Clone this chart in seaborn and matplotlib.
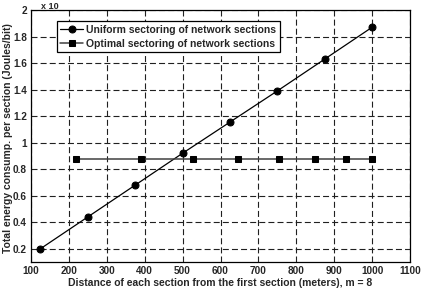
import matplotlib
matplotlib.use("Agg")
import matplotlib.pyplot as plt
import seaborn as sns
import pandas as pd
from matplotlib.ticker import FuncFormatter

uniform_x = [125, 250, 375, 500, 625, 750, 875, 1000]
uniform_y = [0.20, 0.44, 0.68, 0.92, 1.155, 1.39, 1.63, 1.87]
optimal_x = [220, 389, 528, 647, 755, 850, 930, 1000]
optimal_y = [0.874, 0.874, 0.874, 0.874, 0.874, 0.874, 0.874, 0.874]
uniform_label = "Uniform sectoring of network sections"
optimal_label = "Optimal sectoring of network sections"
x_ticks = [100, 200, 300, 400, 500, 600, 700, 800, 900, 1000, 1100]
y_ticks = [0.2, 0.4, 0.6, 0.8, 1.0, 1.2, 1.4, 1.6, 1.8, 2.0]

sns.set_style("ticks")
plt.rcParams['font.family'] = ['Liberation Sans', 'DejaVu Sans']
plt.rcParams['font.weight'] = 'bold'
plt.rcParams['font.size'] = 7

fig = plt.figure(figsize=(4.22, 2.90), dpi=100)
ax = fig.add_axes([0.0735, 0.0966, 0.8981, 0.8689])

df_u = pd.DataFrame({"x": uniform_x, "y": uniform_y})
df_o = pd.DataFrame({"x": optimal_x, "y": optimal_y})

sns.lineplot(data=df_u, x="x", y="y", ax=ax, color="black", linewidth=0.9,
             marker="o", markersize=5, markerfacecolor="black",
             markeredgecolor="black", label=uniform_label)
sns.lineplot(data=df_o, x="x", y="y", ax=ax, color="#404040", linewidth=1.1,
             marker="s", markersize=4.5, markerfacecolor="black",
             markeredgecolor="black", label=optimal_label)

ax.set_xlim(100, 1100)
ax.set_ylim(0.1, 2.0)
ax.set_xticks(x_ticks)
ax.set_yticks(y_ticks)
ax.yaxis.set_major_formatter(FuncFormatter(lambda v, p: "%g" % round(v, 2)))
ax.tick_params(direction="in", top=True, right=True, length=3, width=0.6,
               labelsize=7.2, pad=3)
for lab in ax.get_xticklabels() + ax.get_yticklabels():
    lab.set_fontweight("bold")
ax.grid(True, color="#202020", linestyle=(0, (5.4, 2.8)), linewidth=0.8)
for s in ax.spines.values():
    s.set_color("black")
    s.set_linewidth(0.9)

ax.set_xlabel("Distance of each section from the first section (meters), m = 8",
              fontsize=7.5, fontweight="bold", labelpad=1)
ax.set_ylabel("Total energy consump. per section (Joules/bit)",
              fontsize=7.5, fontweight="bold", labelpad=2)
ax.yaxis.set_label_coords(-0.047, 0.49)
fig.text(0.118, 0.993, "x 10", fontsize=6.5, fontweight="bold", va="top", ha="center")

leg = ax.legend(loc="upper left", bbox_to_anchor=(0.068, 0.955), frameon=True,
                fancybox=False, edgecolor="black", framealpha=1,
                prop={"weight": "bold", "size": 7.5}, handlelength=2.2,
                borderpad=0.35, labelspacing=0.35, handletextpad=0.3,
                borderaxespad=0.0)
leg.get_frame().set_linewidth(0.9)

fig.savefig("out.png", dpi=100)
